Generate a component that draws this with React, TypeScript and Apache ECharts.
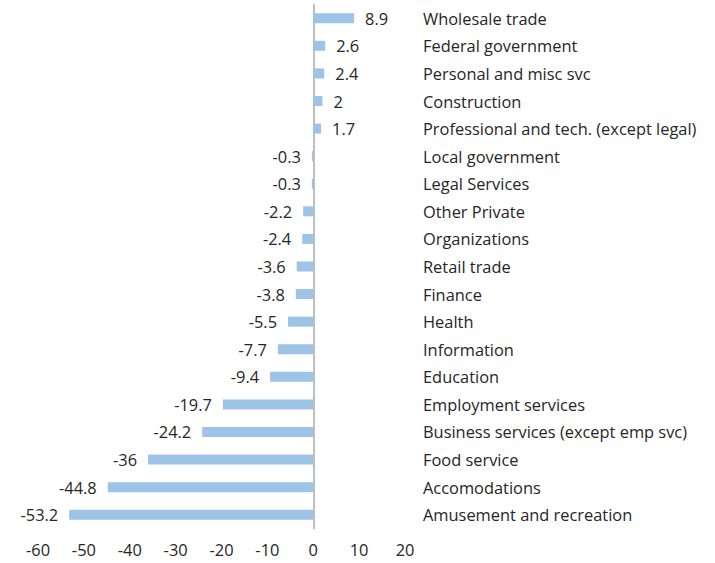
import React, { useEffect, useRef } from "react";
import * as echarts from "echarts";

const categories = [
  "Wholesale trade",
  "Federal government",
  "Personal and misc svc",
  "Construction",
  "Professional and tech. (except legal)",
  "Local government",
  "Legal Services",
  "Other Private",
  "Organizations",
  "Retail trade",
  "Finance",
  "Health",
  "Information",
  "Education",
  "Employment services",
  "Business services (except emp svc)",
  "Food service",
  "Accomodations",
  "Amusement and recreation",
];

const values = [8.9, 2.6, 2.4, 2, 1.7, -0.3, -0.3, -2.2, -2.4, -3.6, -3.8, -5.5, -7.7, -9.4, -19.7, -24.2, -36, -44.8, -53.2];

const xMin = -60;
const xMax = 20;
const xStep = 10;

const FONT = "'Open Sans', 'Noto Sans', sans-serif";
const TEXT = "#262626";
const FS = 16.4;

export default function App() {
  const ref = useRef<HTMLDivElement>(null);
  useEffect(() => {
    if (!ref.current) return;
    const chart = echarts.init(ref.current, null, { renderer: "svg" });
    chart.setOption({
      animation: false,
      backgroundColor: "#ffffff",
      grid: { left: 38, right: 310, top: 4.5, bottom: 34.5, containLabel: false },
      xAxis: {
        type: "value",
        min: xMin,
        max: xMax,
        interval: xStep,
        axisLine: { show: false },
        axisTick: { show: false },
        splitLine: { show: false },
        axisLabel: { color: TEXT, fontSize: FS, fontFamily: FONT, margin: 13 },
      },
      yAxis: [
        {
          type: "category",
          data: categories,
          inverse: true,
          axisLine: { show: true, onZero: true, lineStyle: { color: "#BFBFBF", width: 2 } },
          axisTick: { show: false },
          axisLabel: { show: false },
        },
        {
          type: "category",
          data: categories,
          inverse: true,
          position: "right",
          axisLine: { show: false },
          axisTick: { show: false },
          axisLabel: { color: TEXT, fontSize: FS, fontFamily: FONT, margin: 18, align: "left" },
        },
      ],
      series: [
        {
          type: "bar",
          yAxisIndex: 0,
          barWidth: 10,
          itemStyle: { color: "#9DC3E6" },
          data: values.map((v) => ({
            value: v,
            label: {
              show: true,
              position: v >= 0 ? "right" : "left",
              distance: 11,
              color: TEXT,
              fontSize: FS,
              fontFamily: FONT,
              formatter: (p: any) => String(p.value),
            },
          })),
        },
      ],
    });
    return () => chart.dispose();
  }, []);
  return (
    <div
      ref={ref}
      style={{ position: "fixed", left: 0, top: 0, width: 715, height: 563 }}
    />
  );
}
